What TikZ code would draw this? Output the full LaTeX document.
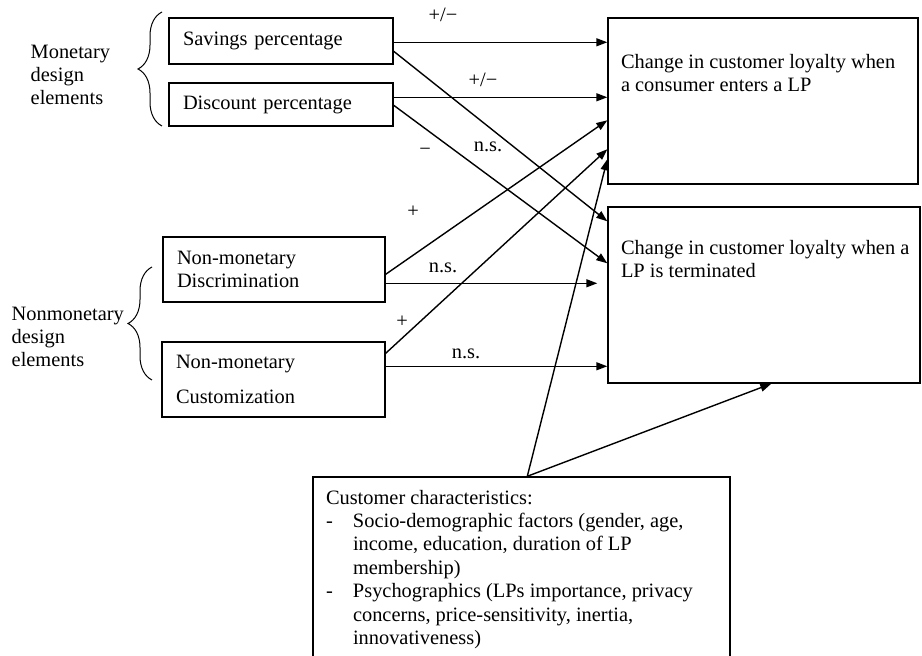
\documentclass[tikz,border=0pt]{standalone}
\usepackage{fontspec}
\setmainfont{Liberation Serif}
\usetikzlibrary{arrows.meta,
                calc,
                decorations.pathreplacing
            }

\newcommand{\chardash}{\makebox[13.5pt][l]{-}}
\newcommand{\charind}{\hspace*{13.5pt}}

\begin{document}
\begin{tikzpicture}[x=0.5pt, y=-0.5pt,
        font=\fontsize{10.2}{11.7}\selectfont,
        line width=0.7pt,
        >={Triangle[length=5.5pt, width=4pt]},
        elembox/.style={draw, align=left, inner xsep=7pt},
        bigbox/.style={draw},
        boxtext/.style={anchor=north west, align=left, inner sep=0pt},
        grouptext/.style={anchor=west, align=left, inner sep=0pt},
        sign/.style={inner sep=0pt},
        groupbrace/.style={decorate, decoration={brace, amplitude=12pt}, line width=0.5pt}
    ]
            \useasboundingbox (0,0) rectangle (922,656);
            \clip (0,0) rectangle (922,656);

            \node[elembox, minimum width=112pt, minimum height=23pt, text width=98pt] (sav) at (281,41) {Savings percentage};
            \node[elembox, minimum width=112pt, minimum height=21.5pt, text width=98pt] (disc) at (281,104.5) {Discount percentage};
            \node[elembox, minimum width=111pt, minimum height=32.5pt, text width=97pt] (discr) at (274,269.5) {Non-monetary\\Discrimination};
            \node[elembox, minimum width=111.5pt, minimum height=37.5pt, text width=97.5pt] (cust) at (273.5,379.5) {Non-monetary\\[5.8pt]Customization};

            \node[bigbox, minimum width=155pt, minimum height=83pt] (loyEnter) at (763,101) {};
            \node[boxtext] (loyEnterTxt) at ($(loyEnter.north west)+(13,36)$) {Change in customer loyalty when\\a consumer enters a LP};
            \node[bigbox, minimum width=156pt, minimum height=88pt] (loyEnd) at (764,295) {};
            \node[boxtext] (loyEndTxt) at ($(loyEnd.north west)+(13,33)$) {Change in customer loyalty when a\\LP is terminated};

            \node[bigbox, minimum width=208.5pt, minimum height=92.5pt] (charBox) at (521.5,569.5) {};
            \node[boxtext] (charTxt) at ($(charBox.north west)+(13,13)$) {Customer characteristics:\\
                \chardash Socio-demographic factors (gender, age,\\
                \charind income, education, duration of LP\\
                \charind membership)\\
                \chardash Psychographics (LPs importance, privacy\\
                \charind concerns, price-sensitivity, inertia,\\
                \charind innovativeness)};

            \node[grouptext] (monGroup) at (30,75) {Monetary\\design\\elements};
            \node[grouptext] (nonmonGroup) at (11,337) {Nonmonetary\\design\\elements};
            \draw[groupbrace] (162,126) -- (162,12);
            \draw[groupbrace] (152,380) -- (152,267);

            \node[sign] (pmSav) at (443,15) {+/−};
            \node[sign] (pmDisc) at (483,80) {+/−};
            \node[sign] (nsSav) at (488,147) {n.s.};
            \node[sign] (minDisc) at (425,152) {−};
            \node[sign] (plDiscr) at (413,212) {+};
            \node[sign] (nsDiscr) at (443,268) {n.s.};
            \node[sign] (plCust) at (402,322) {+};
            \node[sign] (nsCust) at (466,354) {n.s.};

            \draw[->] ($(sav.north east)+(0,25)$) -- ($(loyEnter.north west)+(0,25)$);
            \draw[->] ($(sav.north east)+(0,34)$) -- ($(loyEnd.north west)+(0,15)$);
            \draw[->] ($(disc.north east)+(0,15)$) -- ($(loyEnter.north west)+(0,80)$);
            \draw[->] ($(disc.north east)+(0,23)$) -- ($(loyEnd.north west)+(0,57)$);
            \draw[->] ($(discr.north east)+(0,38)$) -- ($(loyEnter.north west)+(0,103)$);
            \draw[->] ($(discr.north east)+(0,47)$) -- ($(loyEnd.north west)+(-10,77)$);
            \draw[->] ($(cust.north east)+(0,12)$) -- ($(loyEnter.north west)+(0,132)$);
            \draw[->] ($(cust.north east)+(0,25)$) -- ($(loyEnd.north west)+(0,160)$);
            \draw[->] ($(charBox.north west)+(215,0)$) -- ($(loyEnter.north west)+(0,142)$);
            \draw[->] ($(charBox.north west)+(215,0)$) -- ($(loyEnd.south west)+(164,0)$);
        \end{tikzpicture}
\end{document}
